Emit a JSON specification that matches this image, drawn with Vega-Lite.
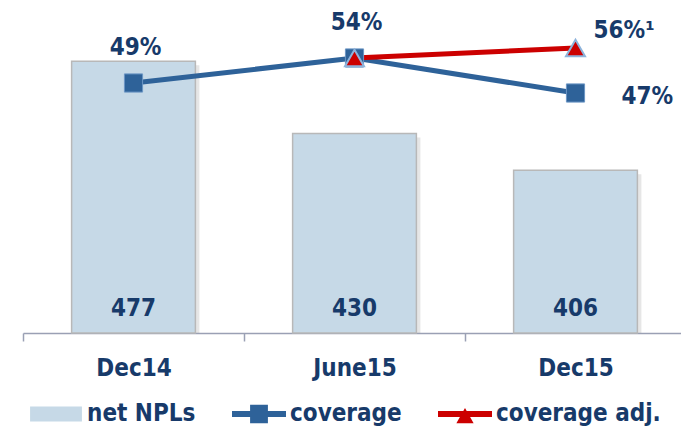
{
  "$schema": "https://vega.github.io/schema/vega-lite/v6.json",
  "width": 658,
  "height": 328,
  "autosize": {"type": "none"},
  "padding": {"left": 23, "top": 5, "right": 0, "bottom": 93},
  "background": "white",
  "config": {
    "view": {"stroke": null},
    "font": "DejaVu Sans Condensed, DejaVu Sans"
  },
  "datasets": {
    "bars": [
      {"period": "Dec14", "series": "net NPLs", "npl": 477},
      {"period": "June15", "series": "net NPLs", "npl": 430},
      {"period": "Dec15", "series": "net NPLs", "npl": 406}
    ],
    "lines": [
      {"period": "Dec14", "series": "coverage", "pct": 49, "label": "49%"},
      {"period": "June15", "series": "coverage", "pct": 54, "label": "54%"},
      {"period": "Dec15", "series": "coverage", "pct": 47, "label": "47%"},
      {"period": "June15", "series": "coverage adj.", "pct": 54, "label": ""},
      {"period": "Dec15", "series": "coverage adj.", "pct": 56, "label": "56%¹"}
    ]
  },
  "encoding": {
    "x": {
      "field": "period",
      "type": "nominal",
      "sort": ["Dec14", "June15", "Dec15"],
      "scale": {"paddingInner": 0.44, "paddingOuter": 0.22, "range": [0, 663]},
      "title": null,
      "axis": {
        "labelAngle": 0,
        "labelFontSize": 24,
        "labelFontWeight": "bold",
        "labelColor": "#173a6a",
        "labelPadding": 15,
        "labelOffset": 110.5,
        "domainColor": "#9aa0b4",
        "domainWidth": 1.5,
        "tickColor": "#9aa0b4",
        "tickWidth": 1.5,
        "tickSize": 8,
        "tickOffset": -110.5,
        "grid": false
      }
    }
  },
  "layer": [
    {
      "data": {"name": "bars"},
      "mark": {"type": "bar", "fill": "#8c8c8c", "opacity": 0.22, "xOffset": 4, "x2Offset": 4, "yOffset": 4, "y2Offset": 0},
      "encoding": {
        "y": {"field": "npl", "type": "quantitative", "scale": {"domain": [300, 513.7], "zero": false, "nice": false}, "axis": null},
        "y2": {"datum": 300}
      }
    },
    {
      "data": {"name": "bars"},
      "mark": {"type": "bar", "stroke": "#b8b8b8", "strokeWidth": 1.5},
      "encoding": {
        "y": {"field": "npl", "type": "quantitative", "scale": {"domain": [300, 513.7], "zero": false, "nice": false}, "axis": null},
        "y2": {"datum": 300},
        "color": {
          "field": "series",
          "type": "nominal",
          "scale": {"domain": ["net NPLs", "coverage", "coverage adj."], "range": ["#c6d9e7", "#2e6299", "#cc0000"]},
          "legend": {
            "title": null,
            "orient": "none",
            "legendX": 6,
            "legendY": 382,
            "direction": "horizontal",
            "padding": 0,
            "columnPadding": 36,
            "labelOffset": 4,
            "labelFontSize": 24,
            "labelFontWeight": "bold",
            "labelColor": "#173a6a",
            "labelLimit": 300,
            "symbolSize": 2916,
            "symbolOpacity": 1,
            "symbolStrokeWidth": 0
          }
        }
      }
    },
    {
      "data": {"name": "bars"},
      "mark": {"type": "text", "fontSize": 24, "fontWeight": "bold", "color": "#173a6a", "baseline": "middle", "dy": -24.5},
      "encoding": {
        "y": {"datum": 300, "type": "quantitative", "scale": {"domain": [300, 513.7], "zero": false, "nice": false}, "axis": null},
        "text": {"field": "npl", "type": "quantitative"}
      }
    },
    {
      "data": {"name": "lines"},
      "mark": {"type": "point", "filled": true, "size": 0},
      "encoding": {
        "y": {"field": "pct", "type": "quantitative", "scale": {"domain": [-1, 64.6], "zero": false, "nice": false}, "axis": null},
        "color": {"field": "series", "type": "nominal"},
        "shape": {
          "field": "series",
          "type": "nominal",
          "scale": {
            "domain": ["net NPLs", "coverage", "coverage adj."],
            "range": [
              "M-0.96,-0.28H0.96V0.28H-0.96Z",
              "M-1,-0.11H1V0.11H-1ZM-0.33,-0.34H0.33V0.34H-0.33Z",
              "M-1,-0.11H1V0.11H-1ZM0,-0.22L0.32,0.34H-0.32Z"
            ]
          }
        }
      }
    },
    {
      "data": {"name": "lines"},
      "transform": [{"filter": "datum.series === 'coverage'"}],
      "mark": {"type": "line", "strokeWidth": 5, "color": "#2e6299"},
      "encoding": {
        "y": {"field": "pct", "type": "quantitative", "scale": {"domain": [-1, 64.6], "zero": false, "nice": false}, "axis": null}
      }
    },
    {
      "data": {"name": "lines"},
      "transform": [{"filter": "datum.series === 'coverage adj.'"}],
      "mark": {"type": "line", "strokeWidth": 5, "color": "#cc0000"},
      "encoding": {
        "y": {"field": "pct", "type": "quantitative", "scale": {"domain": [-1, 64.6], "zero": false, "nice": false}, "axis": null}
      }
    },
    {
      "data": {"name": "lines"},
      "transform": [{"filter": "datum.series === 'coverage'"}],
      "mark": {"type": "point", "shape": "square", "filled": true, "fill": "#2e6299", "stroke": "#6b95c4", "strokeWidth": 1, "size": 330, "opacity": 1},
      "encoding": {
        "y": {"field": "pct", "type": "quantitative", "scale": {"domain": [-1, 64.6], "zero": false, "nice": false}, "axis": null}
      }
    },
    {
      "data": {"name": "lines"},
      "transform": [{"filter": "datum.series === 'coverage adj.'"}],
      "mark": {"type": "point", "shape": "triangle-up", "filled": true, "fill": "#cc0000", "stroke": "#8db3db", "strokeWidth": 2, "size": 360, "opacity": 1},
      "encoding": {
        "y": {"field": "pct", "type": "quantitative", "scale": {"domain": [-1, 64.6], "zero": false, "nice": false}, "axis": null}
      }
    },
    {
      "data": {"name": "lines"},
      "transform": [{"filter": "datum.label === '49%' || datum.label === '54%'"}],
      "mark": {"type": "text", "fontSize": 24, "fontWeight": "bold", "color": "#173a6a", "baseline": "middle", "dx": 2, "dy": -35},
      "encoding": {
        "y": {"field": "pct", "type": "quantitative", "scale": {"domain": [-1, 64.6], "zero": false, "nice": false}, "axis": null},
        "text": {"field": "label"}
      }
    },
    {
      "data": {"name": "lines"},
      "transform": [{"filter": "datum.label === '47%'"}],
      "mark": {"type": "text", "fontSize": 24, "fontWeight": "bold", "color": "#173a6a", "baseline": "middle", "align": "left", "dx": 46, "dy": 4},
      "encoding": {
        "y": {"field": "pct", "type": "quantitative", "scale": {"domain": [-1, 64.6], "zero": false, "nice": false}, "axis": null},
        "text": {"field": "label"}
      }
    },
    {
      "data": {"name": "lines"},
      "transform": [{"filter": "datum.label === '56%¹'"}],
      "mark": {"type": "text", "fontSize": 24, "fontWeight": "bold", "color": "#173a6a", "baseline": "middle", "align": "left", "dx": 18, "dy": -17.5},
      "encoding": {
        "y": {"field": "pct", "type": "quantitative", "scale": {"domain": [-1, 64.6], "zero": false, "nice": false}, "axis": null},
        "text": {"field": "label"}
      }
    }
  ],
  "resolve": {"scale": {"y": "independent"}}
}
